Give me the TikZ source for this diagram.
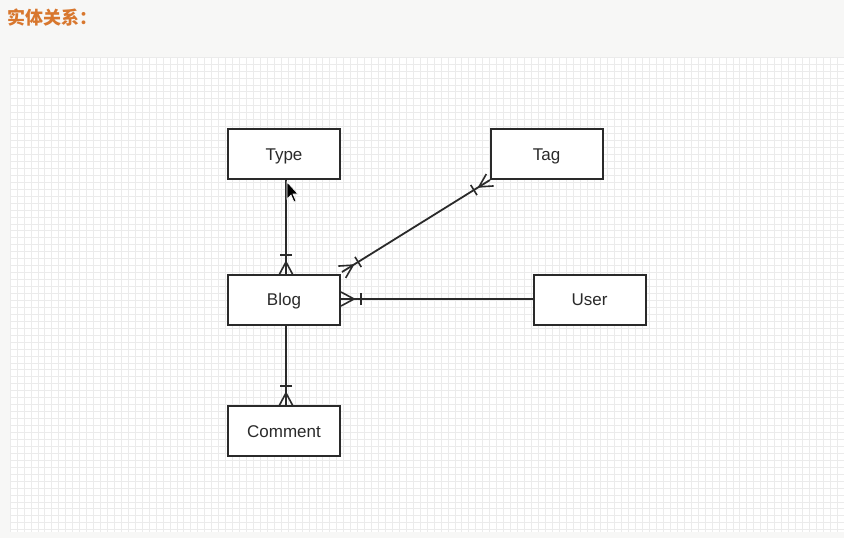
\documentclass[tikz,border=0pt]{standalone}
\usepackage{fontspec}
\setmainfont{Liberation Sans}
\newfontfamily\cjk{Noto Sans CJK SC}
\usetikzlibrary{calc}
\definecolor{pagebg}{HTML}{F7F7F6}
\definecolor{gridln}{HTML}{EBEBEB}
\definecolor{titleor}{HTML}{D8772E}
\definecolor{ink}{HTML}{2A2A2A}
\tikzset{
  entity/.style={draw=ink, line width=2pt, fill=white, minimum width=112pt, minimum height=50pt, inner sep=0pt, text height=12pt, text depth=0pt, font=\fontsize{17}{19}\selectfont, text=ink},
  rel/.style={draw=ink, line width=1.8pt},
  tip/.style={draw=ink, line width=1.6pt},
}
% crow's foot (many) at end #2, coming from #1
\newcommand{\manyend}[2]{%
  \draw[tip] ($(#2)!13pt!(#1)$) -- ($(#2)!7pt!90:(#1)$);
  \draw[tip] ($(#2)!13pt!(#1)$) -- ($(#2)!7pt!-90:(#1)$);
}
% bar (one) at distance #3 from end #2
\newcommand{\barat}[3]{%
  \coordinate (tmpb) at ($(#2)!#3!(#1)$);
  \draw[tip] ($(tmpb)!6pt!90:(#2)$) -- ($(tmpb)!6pt!-90:(#2)$);
}
\begin{document}
\begin{tikzpicture}[x=1pt,y=-1pt]
\useasboundingbox (0,0) rectangle (844,538);
\fill[pagebg] (0,0) rectangle (844,538);
\fill[white] (10,57) rectangle (844,532);
\begin{scope}
\clip (10,57) rectangle (844,532);
\foreach \i in {0,...,121} {\draw[gridln, line width=0.6pt] ({10+\i*6.95},57) -- ({10+\i*6.95},532);}
\foreach \j in {0,...,69} {\draw[gridln, line width=0.6pt] (10,{57+\j*6.95}) -- (844,{57+\j*6.95});}
\end{scope}
\node[anchor=west, text=titleor, font=\cjk\bfseries\fontsize{18}{20}\selectfont, inner sep=0pt] (title) at (7,18) {实体关系：};

\node[entity] (type) at (284,154) {Type};
\node[entity] (tag) at (546.5,154) {Tag};
\node[entity] (blog) at (284,299.5) {Blog};
\node[entity] (user) at (589.5,299.5) {User};
\node[entity] (comment) at (284,431) {Comment};

% Type - Blog
\coordinate (tb1) at (286,179);
\coordinate (tb2) at (286,275);
\draw[rel] (tb1) -- (tb2);
\manyend{tb1}{tb2}
\barat{tb1}{tb2}{20pt}

% Tag - Blog
\coordinate (gb1) at (490,180);
\coordinate (gb2) at (342,272);
\draw[rel] (gb1) -- (gb2);
\manyend{gb1}{gb2}
\barat{gb1}{gb2}{19pt}
\manyend{gb2}{gb1}
\barat{gb2}{gb1}{19pt}

% User - Blog
\coordinate (ub1) at (533,299);
\coordinate (ub2) at (341,299);
\draw[rel] (ub1) -- (ub2);
\manyend{ub1}{ub2}
\barat{ub1}{ub2}{20pt}

% Blog - Comment
\coordinate (bc1) at (286,324);
\coordinate (bc2) at (286,406);
\draw[rel] (bc1) -- (bc2);
\manyend{bc1}{bc2}
\barat{bc1}{bc2}{20pt}

% mouse cursor
\filldraw[fill=black, draw=white, line width=0.6pt]
  (287,182) -- (287,199) -- (291,195) -- (294,202) -- (296,201) -- (293,194) -- (298,194) -- cycle;
\end{tikzpicture}
\end{document}
